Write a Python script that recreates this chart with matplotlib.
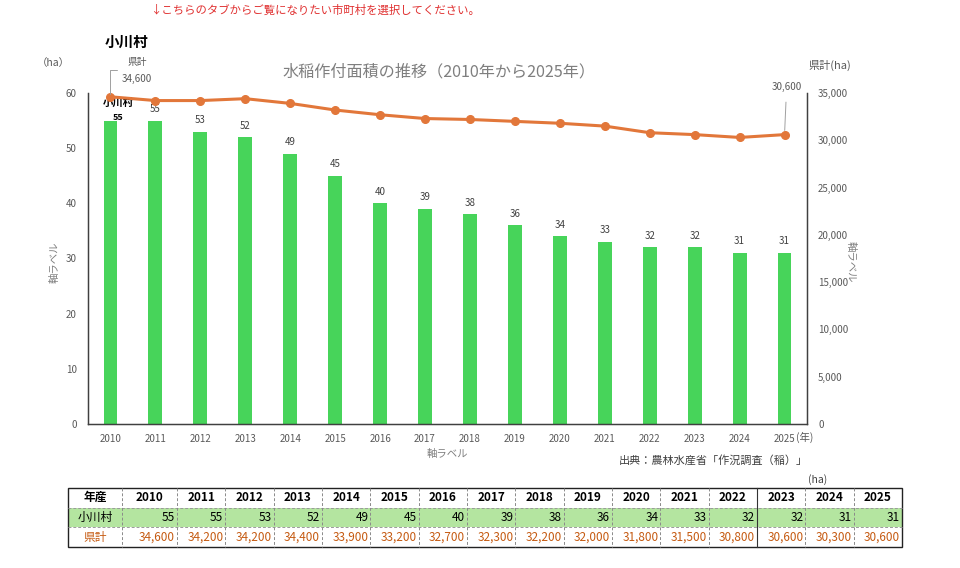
import matplotlib
matplotlib.use("Agg")
import matplotlib.pyplot as plt
from matplotlib.patches import Rectangle
from matplotlib.lines import Line2D

plt.rcParams['font.family'] = ['Noto Sans CJK JP', 'DejaVu Sans']

years = [2010, 2011, 2012, 2013, 2014, 2015, 2016, 2017, 2018, 2019, 2020, 2021, 2022, 2023, 2024, 2025]
village = [55, 55, 53, 52, 49, 45, 40, 39, 38, 36, 34, 33, 32, 32, 31, 31]
pref = [34600, 34200, 34200, 34400, 33900, 33200, 32700, 32300, 32200, 32000, 31800, 31500, 30800, 30600, 30300, 30600]
village_name = "小川村"
pref_name = "県計"
left_ticks = [0, 10, 20, 30, 40, 50, 60]
right_ticks = [0, 5000, 10000, 15000, 20000, 25000, 30000, 35000]

W, H = 960, 568
fig = plt.figure(figsize=(W / 100, H / 100), dpi=100)

def fx(px):
    return px / W

def fy(py):
    return 1 - py / H

GREEN = "#47d45a"
ORANGE = "#e2773a"
GRAY = "#595959"
LGRAY = "#7f7f7f"

# main axes
L, R, T, B = 88, 807, 93, 424
ax = fig.add_axes([fx(L), fy(B), fx(R - L), (B - T) / H])
x = list(range(len(years)))
ax.bar(x, village, width=0.31, color=GREEN, zorder=2)
ax.set_xlim(-0.5, len(years) - 0.5)
ax.set_ylim(0, 60)
ax.set_yticks(left_ticks)
ax.set_xticks(x)
ax.set_xticklabels([str(y) for y in years])
ax.tick_params(length=0, labelsize=7, colors=GRAY, pad=7)
ax.tick_params(axis='y', pad=8)
ax.spines['top'].set_visible(False)
for s in ['left', 'bottom', 'right']:
    ax.spines[s].set_color('#404040')
    ax.spines[s].set_linewidth(1.0)

for i, v in enumerate(village):
    if i == 0:
        continue
    ax.annotate(str(v), (i, v), xytext=(0, 8.3), textcoords='offset points',
                ha='center', va='center', fontsize=7, color='#404040')
# first point label with series name
ax.annotate(village_name, (0, village[0]), xytext=(5.5, 12.7), textcoords='offset points',
            ha='center', va='center', fontsize=7.5, color='black', fontweight='bold')
ax.annotate(str(village[0]), (0, village[0]), xytext=(5.5, 2), textcoords='offset points',
            ha='center', va='center', fontsize=6.5, color='black', fontweight='bold')

ax2 = ax.twinx()
ax2.plot(x, pref, color=ORANGE, lw=2.2, marker='o', ms=5.5, zorder=3)
ax2.set_ylim(0, 35000)
ax2.set_yticks(right_ticks)
ax2.set_yticklabels([f"{t:,}" for t in right_ticks])
ax2.tick_params(length=0, labelsize=7, colors=GRAY, pad=8)
ax2.spines['top'].set_visible(False)
for s in ['left', 'bottom', 'right']:
    ax2.spines[s].set_color('#404040')

# pref labels with leader lines
ax2.annotate(pref_name + "\n" + f"{pref[0]:,}", (0, pref[0]), xytext=(19, 19), textcoords='offset points',
             ha='center', va='center', multialignment='center', fontsize=7, color=GRAY, linespacing=1.9)
ax2.annotate("", (0, pref[0]), xytext=(4.5, 19), textcoords='offset points',
             arrowprops=dict(arrowstyle='-', color='#a0a0a0', lw=0.7,
                             connectionstyle='angle,angleA=0,angleB=90,rad=0', shrinkA=0, shrinkB=2))
ax2.annotate(f"{pref[-1]:,}", (len(years) - 1, pref[-1]), xytext=(1.5, 34), textcoords='offset points',
             ha='center', va='center', fontsize=7, color=GRAY,
             arrowprops=dict(arrowstyle='-', color='#a0a0a0', lw=0.7, shrinkA=5, shrinkB=3))

# texts
fig.text(fx(150), fy(10), "↓こちらのタブからご覧になりたい市町村を選択してください。", fontsize=8.2,
         color='#e03030', va='center', ha='left')
fig.text(fx(105), fy(42), village_name, fontsize=10.5, fontweight='bold', va='center', ha='left')
fig.text(fx(439), fy(72), "水稲作付面積の推移（2010年から2025年）", fontsize=11.6, color=LGRAY,
         va='center', ha='center')
fig.text(fx(37), fy(63), "（ha）", fontsize=7.5, color=GRAY, va='center', ha='left')
fig.text(fx(808), fy(65), "県計(ha)", fontsize=8, color=GRAY, va='center', ha='left')
fig.text(fx(796), fy(437), "(年)", fontsize=7.5, color=GRAY, va='center', ha='left')
fig.text(fx(447), fy(454), "軸ラベル", fontsize=7.5, color=LGRAY, va='center', ha='center')
fig.text(fx(55), fy(262), "軸ラベル", fontsize=7.5, color=LGRAY, va='center', ha='center', rotation=90)
fig.text(fx(851), fy(262), "軸ラベル", fontsize=7.5, color=LGRAY, va='center', ha='center', rotation=-90)
fig.text(fx(808), fy(460), "出典：農林水産省「作況調査（稲）」", fontsize=8, color='#404040',
         va='center', ha='right')
fig.text(fx(808), fy(480), "(ha)", fontsize=7.5, color='#404040', va='center', ha='left')

# table
tax = fig.add_axes([0, 0, 1, 1])
tax.set_xlim(0, W)
tax.set_ylim(H, 0)
tax.axis('off')
tx0, tx1, tx2, txe = 68, 122, 177, 902
rows_y = [488, 507.5, 527, 547]
col_edges = [tx0, tx1, tx2] + [tx2 + (txe - tx2) * k / 15 for k in range(1, 16)]
tax.add_patch(Rectangle((tx0, rows_y[1]), txe - tx0, rows_y[2] - rows_y[1], color="#b4e5a0", lw=0))
for yy in rows_y[1:3]:
    tax.add_line(Line2D([tx0, txe], [yy, yy], color='#9a9a9a', lw=0.7, ls=(0, (3, 2))))
for k, xx in enumerate(col_edges[1:-1]):
    solid = (k == 13)
    tax.add_line(Line2D([xx, xx], [rows_y[0], rows_y[3]], color='#333333' if solid else '#8a8a8a',
                        lw=0.8 if solid else 0.7, ls='-' if solid else (0, (3, 2))))
tax.add_patch(Rectangle((tx0, rows_y[0]), txe - tx0, rows_y[3] - rows_y[0], fill=False,
                        ec='#222222', lw=1.0))
cy = [(rows_y[i] + rows_y[i + 1]) / 2 for i in range(3)]
tax.text((tx0 + tx1) / 2, cy[0], "年産", ha='center', va='center', fontsize=8.5, fontweight='bold')
tax.text((tx0 + tx1) / 2, cy[1], village_name, ha='center', va='center', fontsize=8.5)
tax.text((tx0 + tx1) / 2, cy[2], pref_name, ha='center', va='center', fontsize=8.5, color='#c55a11')
for i, yv in enumerate(years):
    c0, c1 = col_edges[i + 1], col_edges[i + 2]
    tax.text((c0 + c1) / 2, cy[0], str(yv), ha='center', va='center', fontsize=8.5, fontweight='bold')
    tax.text(c1 - 2, cy[1], str(village[i]), ha='right', va='center', fontsize=8.5)
    tax.text(c1 - 2, cy[2], f"{pref[i]:,}", ha='right', va='center', fontsize=8.5, color='#c55a11')

fig.savefig("out.png", dpi=100)
